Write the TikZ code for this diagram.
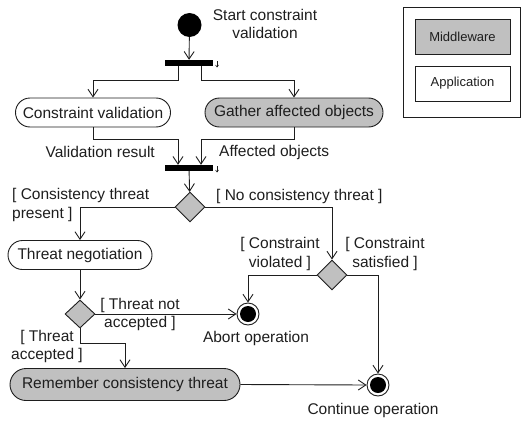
\documentclass[tikz,border=0pt]{standalone}
\usepackage{fontspec}
\setmainfont{Liberation Sans}
\usetikzlibrary{shapes.geometric,arrows.meta}
\definecolor{mwgray}{HTML}{C0C0C0}
\definecolor{ink}{HTML}{1E1E1E}
\begin{document}
\begin{tikzpicture}[x=1pt,y=-1pt,
  every node/.style={text=ink,font=\fontsize{15.5}{18.5}\selectfont},
  flow/.style={draw=ink,line width=0.9pt,-{Straight Barb[length=7.5pt,width=10pt,line width=0.9pt]}},
  plain/.style={draw=ink,line width=0.9pt},
  action/.style={draw=ink,line width=0.9pt,rounded corners=14.5pt,minimum height=29pt,inner sep=0pt},
  mwaction/.style={action,fill=mwgray},
  appaction/.style={action,fill=white},
  syncbar/.style={fill=black,draw=none,minimum width=48pt,minimum height=6pt,inner sep=0pt},
  choice/.style={diamond,draw=ink,line width=0.9pt,fill=mwgray,minimum width=30pt,minimum height=30pt,inner sep=0pt},
  initial/.style={circle,fill=black,minimum size=24pt,inner sep=0pt},
  final/.style={circle,draw=ink,line width=0.9pt,fill=white,minimum size=22pt,inner sep=0pt,
    path picture={\fill[black] (path picture bounding box.center) circle[radius=8pt];}},
  guard/.style={align=center,inner sep=0pt},
  legendbox/.style={draw=ink,line width=0.9pt,minimum width=95pt,minimum height=35pt,inner sep=0pt,
    font=\fontsize{13}{15}\selectfont},
  syncmark/.style={draw=ink,line width=0.6pt,-{Straight Barb[length=2pt,width=3pt,line width=0.6pt]}}
]
\useasboundingbox (0,0) rectangle (521,420);

% legend
\draw[plain] (403,7) rectangle (520,117);
\node[legendbox,fill=mwgray] (lmw) at (462.5,36.5) {Middleware};
\node[legendbox,fill=white] (lapp) at (462.5,83.5) {Application};

% start and first fork
\node[initial] (start) at (189.5,25) {};
\node[guard] (startlbl) at (265,24) {Start constraint\\validation};
\node[syncbar] (fork) at (189,63) {};
\draw[syncmark] (217,61) -- (217,67.5);
\draw[flow] (start) -- (fork);

% parallel actions
\node[appaction,minimum width=155pt] (cv) at (93,112.5) {Constraint validation};
\node[mwaction,minimum width=178pt] (ga) at (294,112.5) {Gather affected objects};
\coordinate (fl) at (178,80);
\coordinate (fr) at (201,80);
\draw[flow] (fl |- fork.south) -- (fl) -| (cv.north);
\draw[flow] (fr |- fork.south) -- (fr) -| (ga.north);

% join
\node[syncbar] (join) at (189,168) {};
\draw[syncmark] (217,166) -- (217,172.5);
\coordinate (jl) at (178,139);
\coordinate (jr) at (201,139);
\draw[flow] (cv.south) |- (jl) -- (jl |- join.north);
\draw[flow] (ga.south) |- (jr) -- (jr |- join.north);
\node[anchor=east,inner sep=0pt] (vr) at (155,152) {Validation result};
\node[anchor=west,inner sep=0pt] (ao) at (219,152) {Affected objects};

% consistency decision
\node[choice] (d1) at (190,207) {};
\draw[flow] (join) -- (d1);
\node[appaction,minimum width=144pt] (tn) at (80,255) {Threat negotiation};
\draw[flow] (d1.west) -| (tn.north);
\node[guard,align=left,anchor=west] (g1) at (12,205) {[ Consistency threat\\present ]};
\node[choice] (d2) at (332,275) {};
\draw[flow] (d1.east) -| (d2.north);
\node[anchor=west,inner sep=0pt] (g2) at (216,196) {[ No consistency threat ]};

% constraint decision
\node[final] (abort) at (248,314) {};
\node[final] (cont) at (378,385) {};
\draw[flow] (d2.west) -| (abort.north);
\draw[flow] (d2.east) -| (cont.north);
\node[guard] (g3) at (280,254) {[ Constraint\\violated ]};
\node[guard] (g4) at (385,254) {[ Constraint\\satisfied ]};
\node[inner sep=0pt] (abortlbl) at (256,338) {Abort operation};
\node[inner sep=0pt] (contlbl) at (373,410) {Continue operation};

% negotiation outcome
\node[choice,minimum height=28pt] (d3) at (80,314) {};
\draw[flow] (tn) -- (d3);
\draw[flow] (d3.east) -- (abort.west);
\node[guard] (g5) at (140,314.5) {[ Threat not\\accepted ]};
\node[mwaction,minimum width=230pt,minimum height=32pt,rounded corners=16pt] (rc) at (125,384.5) {Remember consistency threat};
\coordinate (t3) at (125,343);
\draw[flow] (d3.south) |- (t3) -- (rc.north);
\node[guard] (g6) at (47,346.5) {[ Threat\\accepted ]};
\draw[flow] (rc.east) -- (cont.west);
\end{tikzpicture}
\end{document}
